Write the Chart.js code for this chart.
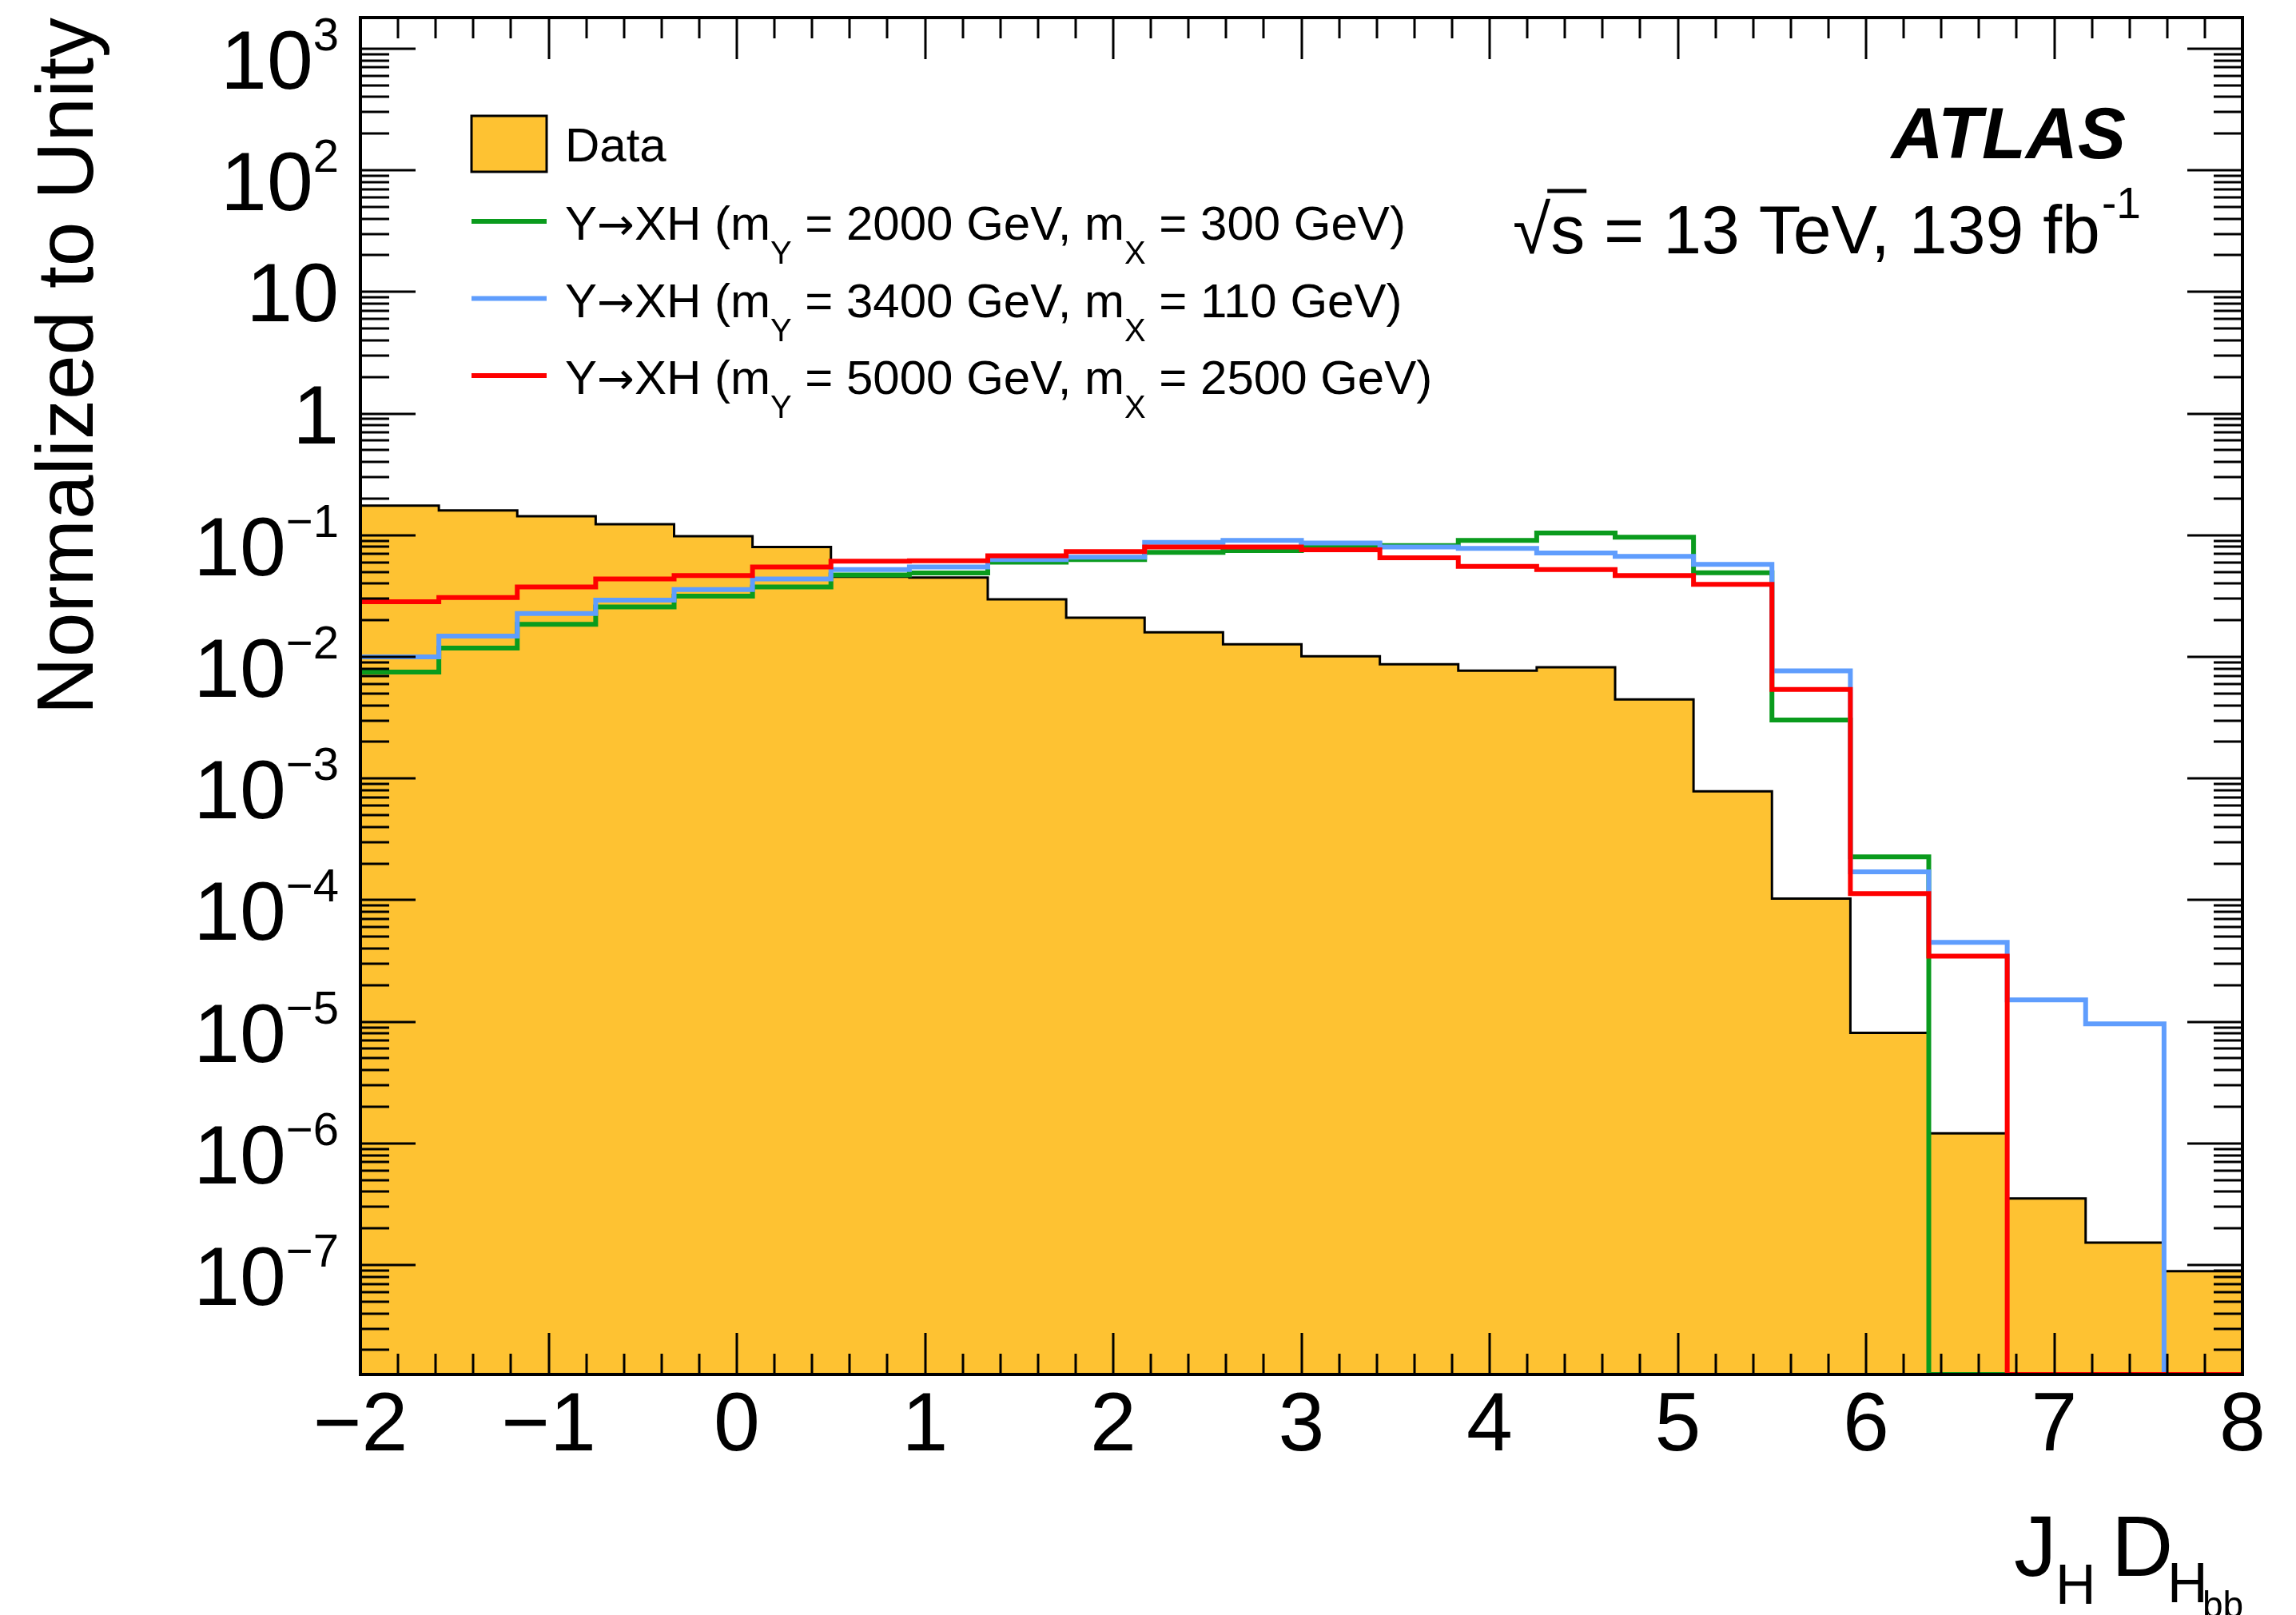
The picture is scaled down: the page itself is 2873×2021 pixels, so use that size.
<!DOCTYPE html>
<html>
<head>
<meta charset="utf-8">
<script src="https://cdn.jsdelivr.net/npm/chart.js@4.4.1/dist/chart.umd.min.js"></script>
<style>
  html, body { margin: 0; padding: 0; background: #fff; overflow: hidden; }
  canvas { display: block; }
</style>
</head>
<body>
<canvas id="chart" width="2873" height="2021"></canvas>
<script>
// bin edges of the J_H D_Hbb histogram (24 bins from -2 to 8)
const binEdges = [-2, -1.5833, -1.1667, -0.75, -0.3333, 0.0833, 0.5, 0.9167, 1.3333, 1.75,
    2.1667, 2.5833, 3, 3.4167, 3.8333, 4.25, 4.6667, 5.0833, 5.5, 5.9167,
    6.3333, 6.75, 7.1667, 7.5833, 8];

const dataValues = [0.175, 0.160, 0.143, 0.123, 0.098, 0.080, 0.0455, 0.0448, 0.0297, 0.021,
    0.0159, 0.0127, 0.0101, 0.0087, 0.0077, 0.0082, 0.00446, 7.85e-4, 1.03e-4, 8.1e-6,
    1.21e-6, 3.52e-7, 1.53e-7, 8.9e-8];

const sigGreen = [0.0075, 0.0118, 0.0185, 0.0257, 0.0315, 0.0375, 0.0471, 0.049, 0.060, 0.063,
    0.0723, 0.0748, 0.0828, 0.082, 0.0906, 0.1044, 0.0964, 0.0491, 0.00302, 2.27e-4,
    0, 0, 0, 0];

const sigBlue = [0.0100, 0.0148, 0.0227, 0.0292, 0.0357, 0.0436, 0.0521, 0.0548, 0.063, 0.066,
    0.0871, 0.0906, 0.0863, 0.080, 0.078, 0.0713, 0.067, 0.0576, 0.00768, 1.71e-4,
    4.5e-5, 1.51e-5, 9.6e-6, 0];

const sigRed = [0.0284, 0.0307, 0.0375, 0.0436, 0.0466, 0.0548, 0.0612, 0.0617, 0.0678, 0.0733,
    0.080, 0.080, 0.076, 0.0653, 0.0554, 0.0521, 0.0466, 0.0394, 0.0054, 1.13e-4,
    3.46e-5, 0, 0, 0];

const massY = ['2000', '3400', '5000'];
const massX = ['300', '110', '2500'];

const xTickValues = [-2, -1, 0, 1, 2, 3, 4, 5, 6, 7, 8];
const xTickLabels = ['\u22122', '\u22121', '0', '1', '2', '3', '4', '5', '6', '7', '8'];
const yExponents = [-7, -6, -5, -4, -3, -2, -1, 0, 1, 2, 3];

const yMin = 1.26e-8;
const yMax = 1800;
const FONT = '"Liberation Sans", Arial, Helvetica, sans-serif';

const colors = {
    data: '#fec232',
    green: '#0a9b1d',
    blue: '#5f9dfd',
    red: '#fe0000'
};

// histogram as step points: one point per bin edge, last value repeated
function histPoints(values) {
    return binEdges.map((e, i) => {
        const v = values[Math.min(i, values.length - 1)];
        return { x: e, y: v > 0 ? v : yMin };
    });
}

// draw text made of parts [text, size, dy, style, family]
function drawRich(ctx, x, y, parts) {
    parts.forEach(p => {
        ctx.font = `${p[3] || ''} ${p[1]}px ${p[4] || FONT}`;
        ctx.fillText(p[0], x, y + (p[2] || 0));
        x += ctx.measureText(p[0]).width;
    });
    return x;
}

const decorPlugin = {
    id: 'decor',
    afterDatasetsDraw(chart) {
        const ctx = chart.ctx;
        const xs = chart.scales.x, ys = chart.scales.y;
        const a = chart.chartArea;
        ctx.save();
        ctx.strokeStyle = '#000';
        ctx.fillStyle = '#000';

        // ticks (inside the frame, all four sides)
        ctx.lineWidth = 3;
        ctx.beginPath();
        for (let i = 0; i <= 50; i++) {
            const v = -2 + i * 0.2;
            const px = Math.round(xs.getPixelForValue(v));
            const len = (i % 5 === 0) ? 52 : 26;
            ctx.moveTo(px, a.bottom); ctx.lineTo(px, a.bottom - len);
            ctx.moveTo(px, a.top); ctx.lineTo(px, a.top + len);
        }
        for (let k = -8; k <= 3; k++) {
            for (let m = 1; m <= 9; m++) {
                const v = m * Math.pow(10, k);
                if (v < yMin || v > yMax) continue;
                const py = Math.round(ys.getPixelForValue(v));
                const len = (m === 1) ? 69 : 36;
                ctx.moveTo(a.left, py); ctx.lineTo(a.left + len, py);
                ctx.moveTo(a.right, py); ctx.lineTo(a.right - len, py);
            }
        }
        ctx.stroke();

        // frame
        ctx.lineWidth = 4;
        ctx.strokeRect(a.left, a.top, a.right - a.left, a.bottom - a.top);

        // x tick labels
        ctx.textAlign = 'center';
        ctx.textBaseline = 'alphabetic';
        ctx.font = `104px ${FONT}`;
        xTickValues.forEach((v, i) => {
            ctx.fillText(xTickLabels[i], xs.getPixelForValue(v), 1815);
        });

        // y tick labels with superscripts
        ctx.textAlign = 'left';
        yExponents.forEach(k => {
            const py = ys.getPixelForValue(Math.pow(10, k));
            const right = 424;
            if (k === 0 || k === 1) {
                const t = k === 0 ? '1' : '10';
                ctx.font = `104px ${FONT}`;
                const w = ctx.measureText(t).width;
                ctx.fillText(t, right - w, py + 37);
            } else {
                const sup = (k < 0 ? '\u2212' : '') + Math.abs(k);
                ctx.font = `58px ${FONT}`;
                const ws = ctx.measureText(sup).width;
                ctx.font = `104px ${FONT}`;
                const wm = ctx.measureText('10').width;
                ctx.fillText('10', right - ws - wm, py + 50);
                ctx.font = `58px ${FONT}`;
                ctx.fillText(sup, right - ws, py + 2);
            }
        });

        // y title
        ctx.save();
        ctx.translate(116, 22);
        ctx.rotate(-Math.PI / 2);
        ctx.textAlign = 'right';
        ctx.font = `100px ${FONT}`;
        ctx.fillText('Normalized to Unity', 0, 0);
        ctx.restore();

        // x title  J_H D_(H_bb)
        ctx.textAlign = 'left';
        drawRich(ctx, 2520, 1972, [['J', 107]]);
        drawRich(ctx, 2572, 2007, [['H', 70]]);
        drawRich(ctx, 2642, 1972, [['D', 107]]);
        drawRich(ctx, 2712, 2005, [['H', 70]]);
        drawRich(ctx, 2756, 2024, [['bb', 46]]);

        // ATLAS label
        ctx.textAlign = 'right';
        ctx.font = `italic bold 90px ${FONT}`;
        ctx.fillText('ATLAS', 2660, 198);

        // sqrt(s) line
        ctx.textAlign = 'left';
        ctx.font = `86px ${FONT}`;
        let x = 1893;
        ctx.fillText('\u221A', x, 317);
        const wr = ctx.measureText('\u221A').width;
        const ws = ctx.measureText('s').width;
        ctx.lineWidth = 5;
        ctx.beginPath();
        ctx.moveTo(x + wr - 4, 239);
        ctx.lineTo(x + wr + ws + 2, 239);
        ctx.stroke();
        x = drawRich(ctx, x + wr, 317, [['s = 13 TeV, 139 fb', 86]]);
        drawRich(ctx, x + 2, 273, [['-1', 55]]);

        // legend
        const ds = chart.data.datasets;
        ctx.fillStyle = ds[0].backgroundColor;
        ctx.fillRect(590, 145, 94, 70);
        ctx.strokeStyle = '#000';
        ctx.lineWidth = 3;
        ctx.strokeRect(590, 145, 94, 70);
        ctx.fillStyle = '#000';
        drawRich(ctx, 707, 202, [[ds[0].label, 60]]);

        [1, 2, 3].forEach((di, r) => {
            const cy = 277 + r * 96.5;
            ctx.strokeStyle = ds[di].borderColor;
            ctx.lineWidth = 6;
            ctx.beginPath();
            ctx.moveTo(590, cy);
            ctx.lineTo(684, cy);
            ctx.stroke();
            ctx.fillStyle = '#000';
            drawRich(ctx, 707, cy + 23, [
                ['Y', 60], ['\u2192', 56, 0, '', '"DejaVu Sans", sans-serif'], ['XH (m', 60], ['Y', 40, 30],
                [' = ' + massY[r] + ' GeV, m', 60], ['X', 40, 30],
                [' = ' + massX[r] + ' GeV)', 60]
            ]);
        });

        ctx.restore();
    }
};

const lineCommon = {
    stepped: 'before',
    pointRadius: 0,
    borderJoinStyle: 'miter',
    borderCapStyle: 'butt',
    fill: false
};

new Chart(document.getElementById('chart').getContext('2d'), {
    type: 'line',
    data: {
        datasets: [
            Object.assign({}, lineCommon, {
                label: 'Data',
                data: histPoints(dataValues),
                backgroundColor: colors.data,
                borderColor: '#000',
                borderWidth: 3,
                fill: 'start',
                order: 4
            }),
            Object.assign({}, lineCommon, {
                label: 'Y\u2192XH (mY = 2000 GeV, mX = 300 GeV)',
                data: histPoints(sigGreen),
                borderColor: colors.green,
                borderWidth: 6,
                order: 3
            }),
            Object.assign({}, lineCommon, {
                label: 'Y\u2192XH (mY = 3400 GeV, mX = 110 GeV)',
                data: histPoints(sigBlue),
                borderColor: colors.blue,
                borderWidth: 6,
                order: 2
            }),
            Object.assign({}, lineCommon, {
                label: 'Y\u2192XH (mY = 5000 GeV, mX = 2500 GeV)',
                data: histPoints(sigRed),
                borderColor: colors.red,
                borderWidth: 6,
                order: 1
            })
        ]
    },
    options: {
        responsive: false,
        animation: false,
        devicePixelRatio: 1,
        layout: { padding: { left: 451, right: 67, top: 22, bottom: 301 } },
        scales: {
            x: { type: 'linear', min: -2, max: 8, display: false },
            y: { type: 'logarithmic', min: yMin, max: yMax, display: false }
        },
        plugins: {
            legend: { display: false },
            tooltip: { enabled: false }
        }
    },
    plugins: [decorPlugin]
});
</script>
</body>
</html>
